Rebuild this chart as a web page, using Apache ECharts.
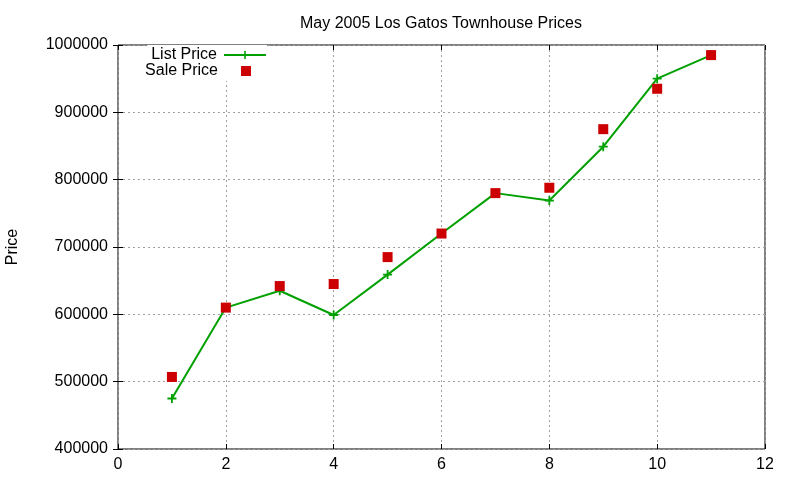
<!DOCTYPE html>
<html>
<head>
<meta charset="utf-8">
<script src="https://cdn.jsdelivr.net/npm/echarts@6/dist/echarts.min.js"></script>
<style>
html, body { margin: 0; padding: 0; background: #fff; }
#chart1 { width: 800px; height: 480px; }
</style>
</head>
<body>
<div id="chart1"></div>
<script>
// data
var months = [1, 2, 3, 4, 5, 6, 7, 8, 9, 10, 11];
var listPrice = [475000, 610000, 635000, 599000, 659000, 720000, 780000, 769000, 849000, 950000, 985000];
var salePrice = [507000, 610000, 642000, 645000, 685000, 720000, 780000, 788000, 875000, 935000, 985000];

var FONT = 'Liberation Sans, Arial, sans-serif';
var PLUS = 'path://M4,0H6V4H10V6H6V10H4V6H0V4H4Z';

var _chart1 = null;
function initChart1() {
    _chart1 = echarts.init(document.getElementById('chart1'));
    var listdata = [];
    var saledata = [];
    for (var i = 0; i < months.length; i++) {
        listdata.push([months[i], listPrice[i]]);
        saledata.push([months[i], salePrice[i]]);
    }

    var gridLine = { show: true, lineStyle: { color: '#a0a0a0', width: 1, type: [2, 3] } };
    var tick = { show: true, inside: true, length: 5, lineStyle: { color: '#000', width: 1 } };

    var option = {
        animation: false,
        backgroundColor: '#fff',
        title: {
            text: 'May 2005 Los Gatos Townhouse Prices',
            left: 436,
            top: 11,
            textAlign: 'center',
            textStyle: { fontFamily: FONT, fontSize: 16, fontWeight: 'normal', color: '#000' }
        },
        legend: [
            {
                data: ['List Price'],
                right: 533,
                top: 45,
                align: 'right',
                itemWidth: 42,
                itemHeight: 10,
                itemGap: 0,
                padding: [2, 0, 2, 4],
                backgroundColor: '#fff',
                textStyle: { fontFamily: FONT, fontSize: 16, color: '#000', padding: [0, 2, 0, 0] }
            },
            {
                data: ['Sale Price'],
                right: 549,
                top: 61,
                align: 'right',
                itemWidth: 10,
                itemHeight: 10,
                itemGap: 0,
                padding: [2, 0, 2, 4],
                backgroundColor: '#fff',
                textStyle: { fontFamily: FONT, fontSize: 16, color: '#000', padding: [0, 18, 0, 0] }
            }
        ],
        grid: {
            left: 118,
            right: 35,
            top: 45,
            bottom: 31,
            outerBoundsMode: 'none',
            containLabel: false,
            show: true,
            borderColor: '#000',
            borderWidth: 1,
            backgroundColor: 'transparent'
        },
        xAxis: [
            {
                type: 'value',
                min: 0,
                max: 12,
                interval: 2,
                axisLine: { show: false },
                axisTick: tick,
                splitLine: gridLine,
                axisLabel: { fontFamily: FONT, fontSize: 16, color: '#000', margin: 8 }
            },
            {
                type: 'value',
                position: 'top',
                min: 0,
                max: 12,
                interval: 2,
                axisLine: { show: false },
                axisTick: tick,
                splitLine: { show: false },
                axisLabel: { show: false }
            }
        ],
        yAxis: [
            {
                type: 'value',
                min: 400000,
                max: 1000000,
                interval: 100000,
                name: 'Price',
                nameLocation: 'middle',
                nameRotate: 90,
                nameGap: 97,
                nameTextStyle: { fontFamily: FONT, fontSize: 16, color: '#000' },
                axisLine: { show: false },
                axisTick: tick,
                splitLine: gridLine,
                axisLabel: {
                    fontFamily: FONT, fontSize: 16, color: '#000', margin: 10,
                    formatter: function (v) { return String(v); }
                }
            },
            {
                type: 'value',
                position: 'right',
                min: 400000,
                max: 1000000,
                interval: 100000,
                axisLine: { show: false },
                axisTick: tick,
                splitLine: { show: false },
                axisLabel: { show: false }
            }
        ],
        series: [
            {
                name: 'List Price',
                type: 'line',
                data: listdata,
                symbol: PLUS,
                symbolSize: 9,
                showAllSymbol: true,
                itemStyle: { color: '#00a000' },
                lineStyle: { color: '#00a000', width: 2 },
                z: 3
            },
            {
                name: 'Sale Price',
                type: 'scatter',
                data: saledata,
                symbol: 'rect',
                symbolSize: 10,
                itemStyle: { color: '#cc0000', opacity: 1 },
                z: 4
            }
        ]
    };

    _chart1.setOption(option);
}
initChart1();
</script>
</body>
</html>
